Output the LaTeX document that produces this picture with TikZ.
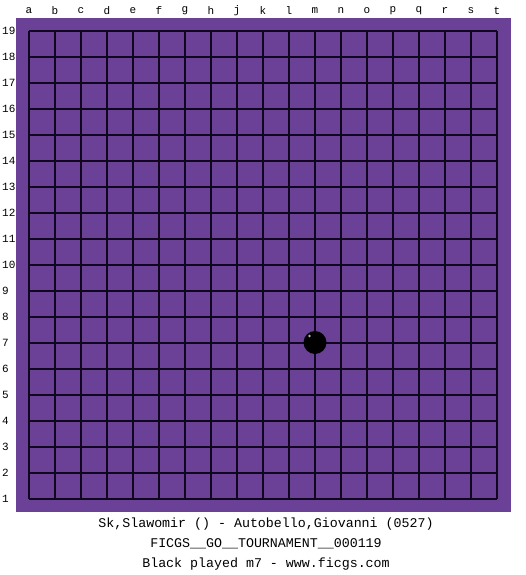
\documentclass[tikz,border=0pt]{standalone}
\usepackage{fontspec}
\setmonofont{Liberation Mono}
\definecolor{board}{HTML}{6A4197}
\definecolor{gridline}{HTML}{10061E}
\begin{document}
\begin{tikzpicture}[x=1pt,y=-1pt,
  lbl/.style={font=\ttfamily\fontsize{11}{11}\selectfont, inner sep=0pt},
  caption/.style={font=\ttfamily\fontsize{13.3}{13.3}\selectfont, inner sep=0pt}]
\useasboundingbox (0,0) rectangle (525,575);
\fill[board] (16,18) rectangle (511,512);
\foreach \i in {0,...,18} {
  \draw[gridline, line width=1.2pt] (29+26*\i,31) -- (29+26*\i,499);
  \draw[gridline, line width=1.2pt] (29,31+26*\i) -- (497,31+26*\i);
}
\foreach \l [count=\i from 0] in {a,b,c,d,e,f,g,h,j,k,l,m,n,o,p,q,r,s,t} {
  \node[lbl] (col\l) at (29+26*\i,11) {\l};
}
\foreach \n in {1,...,19} {
  \node[lbl, anchor=west] (row\n) at (2,499-26*\n+26) {\n};
}
\fill[black] (315,342.5) circle (11.5);
\fill[white!70!black] (309.5,336) circle (1.3);
\node[caption] (t1) at (266,524) {Sk,Slawomir () - Autobello,Giovanni (0527)};
\node[caption] (t2) at (266,544) {FICGS\_\_GO\_\_TOURNAMENT\_\_000119};
\node[caption] (t3) at (266,564) {Black played m7 - www.ficgs.com};
\end{tikzpicture}
\end{document}
